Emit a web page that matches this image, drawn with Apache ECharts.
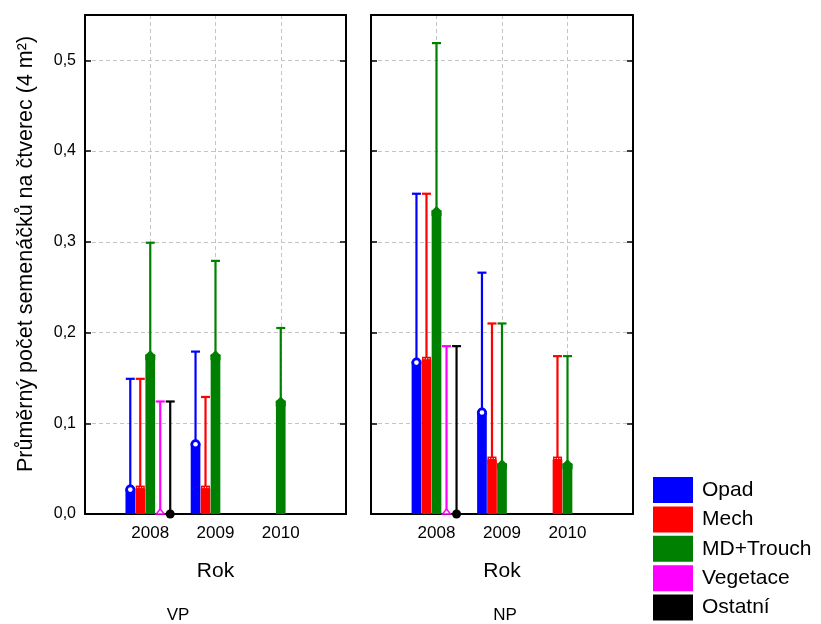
<!DOCTYPE html>
<html><head><meta charset="utf-8">
<script src="https://cdn.jsdelivr.net/npm/echarts@6/dist/echarts.min.js"></script>
<style>html,body{margin:0;padding:0;background:#fff}#c{width:821px;height:624px}</style>
</head><body><div id="c"></div>
<script>
const years = ['2008', '2009', '2010'];
const seriesNames = ['Opad', 'Mech', 'MD+Trouch', 'Vegetace', 'Ostatní'];
const panels = ['VP', 'NP'];
const yTicks = [0, 0.1, 0.2, 0.3, 0.4, 0.5];

// VP panel: means and upper error limits per year
const vpOpad = [0.028, 0.078, null];      const vpOpadErr = [0.149, 0.179, null];
const vpMech = [0.028, 0.028, null];      const vpMechErr = [0.149, 0.129, null];
const vpMD = [0.176, 0.176, 0.125];       const vpMDErr = [0.299, 0.279, 0.205];
const vpVeg = [0, null, null];            const vpVegErr = [0.124, null, null];
const vpOst = [0, null, null];            const vpOstErr = [0.124, null, null];
// NP panel
const npOpad = [0.168, 0.113, null];      const npOpadErr = [0.353, 0.266, null];
const npMech = [0.170, 0.060, 0.060];     const npMechErr = [0.353, 0.210, 0.174];
const npMD = [0.335, 0.056, 0.056];       const npMDErr = [0.519, 0.210, 0.174];
const npVeg = [0, null, null];            const npVegErr = [0.185, null, null];
const npOst = [0, null, null];            const npOstErr = [0.185, null, null];

const colors = ['#0000ff', '#ff0000', '#008000', '#ff00ff', '#000000'];
const FONT = "'Liberation Sans', Arial, sans-serif";

const panelData = [
  [[vpOpad, vpOpadErr], [vpMech, vpMechErr], [vpMD, vpMDErr], [vpVeg, vpVegErr], [vpOst, vpOstErr]],
  [[npOpad, npOpadErr], [npMech, npMechErr], [npMD, npMDErr], [npVeg, npVegErr], [npOst, npOstErr]]
];

const SLOT = 0.153, BARW = 0.148;

function makeRender(k) {
  const col = colors[k];
  return function (params, api) {
    const x = api.value(0) + (k - 2) * SLOT;
    const v = api.value(1), e = api.value(2);
    const children = [];
    if (v > 0) {
      const p1 = api.coord([x - BARW / 2, v]);
      const p2 = api.coord([x + BARW / 2, 0]);
      children.push({ type: 'rect', shape: { x: p1[0], y: p1[1], width: p2[0] - p1[0], height: p2[1] - p1[1] }, style: { fill: col } });
    }
    const pm = api.coord([x, v]);
    if (e != null && !isNaN(e)) {
      const pe = api.coord([x, e]);
      children.push({ type: 'line', shape: { x1: pm[0], y1: pm[1], x2: pe[0], y2: pe[1] }, style: { stroke: col, lineWidth: 2.2 } });
      children.push({ type: 'line', shape: { x1: pe[0] - 4.5, y1: pe[1], x2: pe[0] + 4.5, y2: pe[1] }, style: { stroke: col, lineWidth: 2.2 } });
    }
    // marker
    if (k === 0) {
      children.push({ type: 'circle', shape: { cx: pm[0], cy: pm[1] + 1, r: 4.3 }, style: { fill: col, stroke: col, lineWidth: 1.5 } });
      children.push({ type: 'circle', shape: { cx: pm[0], cy: pm[1] + 1, r: 2.3 }, style: { fill: '#fff' } });
    } else if (k === 1) {
      children.push({ type: 'rect', shape: { x: pm[0] - 4.5, y: pm[1] - 3, width: 9, height: 8 }, style: { fill: col } });
      children.push({ type: 'line', shape: { x1: pm[0] - 3, y1: pm[1] - 1, x2: pm[0] + 3, y2: pm[1] - 1 }, style: { stroke: '#fff', lineWidth: 1, lineDash: [1, 1.5] } });
    } else if (k === 2) {
      children.push({ type: 'polygon', shape: { points: [[pm[0], pm[1] - 4], [pm[0] + 5, pm[1] + 1], [pm[0] + 5, pm[1] + 6], [pm[0] - 5, pm[1] + 6], [pm[0] - 5, pm[1] + 1]] }, style: { fill: col } });
    } else if (k === 3) {
      children.push({ type: 'polygon', shape: { points: [[pm[0], pm[1] - 5], [pm[0] + 4, pm[1]], [pm[0] - 4, pm[1]]] }, style: { fill: '#fff', stroke: col, lineWidth: 1.5 } });
    } else {
      children.push({ type: 'circle', shape: { cx: pm[0], cy: pm[1], r: 4.5 }, style: { fill: col } });
    }
    return { type: 'group', children };
  };
}

const gridsPx = [{ left: 85, right: 475 }, { left: 371, right: 188 }];
const grid = [], xAxis = [], yAxis = [], series = [];
const splitStyle = { color: '#c4c4c4', type: [4, 3], width: 1 };
gridsPx.forEach((g, p) => {
  grid.push({ left: g.left, right: g.right, top: 15, bottom: 110, show: false });
  xAxis.push({
    type: 'value', gridIndex: p, min: 0, max: 4, interval: 1, position: 'bottom',
    name: 'Rok', nameLocation: 'middle', nameGap: 47,
    nameTextStyle: { fontFamily: FONT, fontSize: 21, color: '#000' },
    axisLine: { onZero: false, lineStyle: { color: '#000', width: 2 } },
    axisTick: { inside: true, length: 5, lineStyle: { color: '#000', width: 1.5 } },
    axisLabel: { margin: 11, fontFamily: FONT, fontSize: 17, color: '#000', formatter: v => (v >= 1 && v <= 3 ? years[v - 1] : '') },
    splitLine: { show: true, showMinLine: false, showMaxLine: false, lineStyle: splitStyle }
  });
  xAxis.push({
    type: 'value', gridIndex: p, min: 0, max: 4, position: 'top',
    axisLine: { show: true, onZero: false, lineStyle: { color: '#000', width: 2 } },
    axisTick: { show: false }, axisLabel: { show: false }, splitLine: { show: false }
  });
  yAxis.push({
    type: 'value', gridIndex: p, min: 0, max: 0.55, interval: 0.1, position: 'left',
    axisLine: { onZero: false, lineStyle: { color: '#000', width: 2 } },
    axisTick: { inside: true, length: 6, lineStyle: { color: '#000', width: 1.5 } },
    axisLabel: { show: p === 0, showMaxLabel: false, margin: 9, fontFamily: FONT, fontSize: 16, color: '#000', formatter: v => v.toFixed(1).replace('.', ',') },
    splitLine: { show: true, showMinLine: false, showMaxLine: false, lineStyle: splitStyle }
  });
  yAxis.push({
    type: 'value', gridIndex: p, min: 0, max: 0.55, interval: 0.1, position: 'right',
    axisLine: { show: true, onZero: false, lineStyle: { color: '#000', width: 2 } },
    axisTick: { show: true, inside: true, length: 6, lineStyle: { color: '#000', width: 1.5 } },
    axisLabel: { show: false }, splitLine: { show: false }
  });
  seriesNames.forEach((name, k) => {
    const [means, errs] = panelData[p][k];
    const data = [];
    years.forEach((y, i) => { if (means[i] != null) data.push([i + 1, means[i], errs[i]]); });
    series.push({
      name, type: 'custom', xAxisIndex: p * 2, yAxisIndex: p * 2,
      itemStyle: { color: colors[k] }, renderItem: makeRender(k), data, clip: false,
      encode: { x: 0, y: [1, 2] }
    });
  });
});

const chart = echarts.init(document.getElementById('c'), null, { renderer: 'canvas' });
chart.setOption({
  animation: false,
  backgroundColor: '#fff',
  grid, xAxis, yAxis, series,
  legend: {
    orient: 'vertical', left: 653, top: 477, height: 200, padding: 0,
    itemWidth: 40, itemHeight: 26, itemGap: 3.4,
    icon: 'rect', data: seriesNames,
    textStyle: { fontFamily: FONT, fontSize: 21, color: '#000', lineHeight: 26, padding: [0, 0, 0, 4] }
  },
  graphic: [
    { type: 'text', x: 26, y: 254, rotation: Math.PI / 2, style: { text: 'Průměrný počet semenáčků na čtverec (4 m²)', font: '21.5px ' + FONT, fill: '#000', textAlign: 'center', textVerticalAlign: 'middle' } },
    { type: 'text', x: 178, y: 615, style: { text: panels[0], font: '17px ' + FONT, fill: '#000', textAlign: 'center', textVerticalAlign: 'middle' } },
    { type: 'text', x: 505, y: 615, style: { text: panels[1], font: '17px ' + FONT, fill: '#000', textAlign: 'center', textVerticalAlign: 'middle' } }
  ]
});
</script></body></html>
